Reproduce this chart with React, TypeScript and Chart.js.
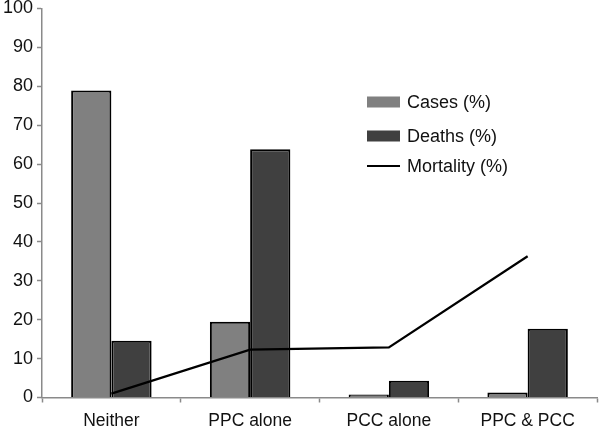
import React, { useEffect, useRef } from 'react';
import { Chart, registerables } from 'chart.js';

Chart.register(...registerables);

const categories = ['Neither', 'PPC alone', 'PCC alone', 'PPC & PCC'];
const casesPct = [78.9, 19.5, 0.8, 1.3];
const deathsPct = [14.6, 63.8, 4.3, 17.7];
const mortalityPct = [1.0, 12.3, 12.9, 36.3];
const seriesLabels = ['Cases (%)', 'Deaths (%)', 'Mortality (%)'];
const yMin = 0;
const yMax = 100;
const yStep = 10;

const FONT = 'Arial, "Liberation Sans", Helvetica, sans-serif';
const TEXT = '#111111';
const AXIS = '#8a8a8a';

const legendPlugin = {
  id: 'insideLegend',
  afterDraw(chart: any) {
    const ctx = chart.ctx;
    const x0 = 367;
    const boxW = 33;
    const rows = [102, 136, 166];
    ctx.save();
    ctx.font = `18px ${FONT}`;
    ctx.textBaseline = 'middle';
    ctx.textAlign = 'left';
    chart.data.datasets.forEach((ds: any) => {
      const idx = seriesLabels.indexOf(ds.label);
      const y = rows[idx];
      if (ds.type === 'line') {
        ctx.strokeStyle = ds.borderColor;
        ctx.lineWidth = 2;
        ctx.beginPath();
        ctx.moveTo(x0, y);
        ctx.lineTo(x0 + boxW, y);
        ctx.stroke();
      } else {
        ctx.fillStyle = ds.backgroundColor;
        ctx.fillRect(x0, y - 5.5, boxW, 11);
      }
      ctx.fillStyle = TEXT;
      ctx.fillText(ds.label, x0 + boxW + 7, y + 1);
    });
    ctx.restore();
  },
};

export default function App() {
  const ref = useRef<HTMLCanvasElement | null>(null);
  useEffect(() => {
    document.body.style.margin = '0';
    const canvas = ref.current!;
    const chart = new Chart(canvas, {
      type: 'bar',
      data: {
        labels: categories,
        datasets: [
          {
            type: 'line',
            label: seriesLabels[2],
            data: mortalityPct,
            borderColor: '#000000',
            borderWidth: 2.2,
            pointRadius: 0,
            tension: 0,
            fill: false,
            order: 0,
          } as any,
          {
            type: 'bar',
            label: seriesLabels[0],
            data: casesPct,
            backgroundColor: '#808080',
            borderColor: '#000000',
            borderWidth: 2,
            categoryPercentage: 0.58,
            barPercentage: 1.0,
            order: 1,
          },
          {
            type: 'bar',
            label: seriesLabels[1],
            data: deathsPct,
            backgroundColor: '#404040',
            borderColor: '#000000',
            borderWidth: 2,
            categoryPercentage: 0.58,
            barPercentage: 1.0,
            order: 2,
          },
        ],
      },
      options: {
        responsive: false,
        animation: false,
        layout: { padding: { top: 8.5, right: 3, left: 0, bottom: 0 } },
        plugins: {
          legend: { display: false },
          tooltip: { enabled: false },
        },
        scales: {
          x: {
            offset: true,
            grid: {
              display: true,
              drawOnChartArea: false,
              drawTicks: true,
              tickLength: 5,
              tickColor: AXIS,
              tickWidth: 1.5,
              offset: true,
            },
            border: { display: true, color: AXIS, width: 1.5 },
            ticks: {
              color: TEXT,
              font: { family: FONT, size: 17.5 },
              padding: 8,
              maxRotation: 0,
              autoSkip: false,
            },
            afterFit: (s: any) => {
              s.height = 36.5;
              s.paddingLeft = 0;
              s.paddingRight = 0;
            },
          },
          y: {
            min: yMin,
            max: yMax,
            ticks: {
              stepSize: yStep,
              color: TEXT,
              font: { family: FONT, size: 18 },
              padding: 4,
            },
            grid: {
              display: true,
              drawOnChartArea: false,
              drawTicks: true,
              tickLength: 5,
              tickColor: AXIS,
              tickWidth: 1.5,
            },
            border: { display: true, color: AXIS, width: 1.5 },
            afterFit: (s: any) => {
              s.width = 42;
              s.paddingTop = 0;
              s.paddingBottom = 0;
            },
          },
        },
      },
      plugins: [legendPlugin],
    });
    return () => chart.destroy();
  }, []);
  return (
    <div style={{ width: 600, height: 434, background: '#ffffff' }}>
      <canvas ref={ref} width={600} height={434} style={{ display: 'block' }} />
    </div>
  );
}
